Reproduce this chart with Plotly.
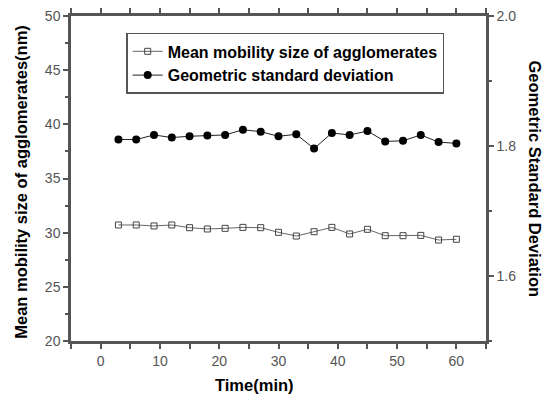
import plotly.graph_objects as go

time_min = [3, 6, 9, 12, 15, 18, 21, 24, 27, 30, 33, 36, 39, 42, 45, 48, 51, 54, 57, 60]
mean_size = [30.71, 30.71, 30.62, 30.71, 30.46, 30.34, 30.40, 30.49, 30.46, 30.03,
             29.69, 30.09, 30.49, 29.88, 30.31, 29.72, 29.72, 29.75, 29.32, 29.39]
gsd = [1.810, 1.810, 1.817, 1.813, 1.815, 1.816, 1.817, 1.825, 1.822, 1.815,
       1.818, 1.796, 1.820, 1.817, 1.823, 1.807, 1.808, 1.817, 1.806, 1.804]

x_title = "Time(min)"
left_title = "Mean mobility size of agglomerates(nm)"
right_title = "Geometric Standard Deviation"

axcol = "#555"
tickfont = dict(family="Liberation Sans, Arial", size=14, color="#555")
titlefont = dict(family="Liberation Sans, Arial", size=16.5, color="black")

fig = go.Figure()
fig.add_trace(go.Scatter(
    x=time_min, y=mean_size, mode="lines+markers",
    name="<b>Mean mobility size of agglomerates</b>",
    line=dict(color="#666", width=1),
    marker=dict(symbol="square-open", size=6, color="#444", line=dict(width=1)),
    yaxis="y"))
fig.add_trace(go.Scatter(
    x=time_min, y=gsd, mode="lines+markers",
    name="<b>Geometric standard deviation</b>",
    line=dict(color="#222", width=1),
    marker=dict(symbol="circle", size=8, color="black"),
    yaxis="y2"))

common = dict(showline=True, linecolor=axcol, linewidth=2.5, showgrid=False,
              zeroline=False, automargin=False, tickcolor=axcol, tickwidth=1.5)

fig.update_layout(
    width=552, height=398,
    margin=dict(l=71, r=66, t=16, b=57),
    paper_bgcolor="white", plot_bgcolor="white",
    showlegend=True,
    legend=dict(x=0.133, y=0.948, xanchor="left", yanchor="top",
                bordercolor="#555", borderwidth=1.5, bgcolor="white",
                font=dict(family="Liberation Sans, Arial", size=16, color="black"),
                tracegroupgap=0),
    xaxis=dict(range=[-5, 65], tick0=0, dtick=10, ticks="outside", ticklen=5,
               mirror="allticks", tickfont=tickfont,
               minor=dict(tick0=0, dtick=5, ticks="outside", ticklen=3, tickcolor=axcol),
               **common),
    yaxis=dict(range=[20, 50], tick0=20, dtick=5, ticks="outside", ticklen=5,
               tickfont=tickfont,
               minor=dict(tick0=20, dtick=2.5, ticks="outside", ticklen=3, tickcolor=axcol),
               **common),
    yaxis2=dict(range=[1.5, 2.0], overlaying="y", side="right", tick0=0, dtick=0.2,
                tickformat=".1f", ticks="outside", ticklen=5, tickfont=tickfont,
                minor=dict(tick0=0, dtick=0.1, ticks="outside", ticklen=3, tickcolor=axcol),
                **common),
    annotations=[
        dict(text="<b>" + right_title + "</b>", textangle=90,
             xref="paper", yref="paper", x=1.0, xshift=49, y=0.5,
             xanchor="center", yanchor="middle", showarrow=False, font=titlefont),
        dict(text="<b>" + left_title + "</b>", textangle=-90,
             xref="paper", yref="paper", x=0.0, xshift=-50, y=0.49,
             xanchor="center", yanchor="middle", showarrow=False, font=titlefont),
        dict(text="<b>" + x_title + "</b>",
             xref="paper", yref="paper", x=0.441, y=0.0, yshift=-44,
             xanchor="center", yanchor="middle", showarrow=False, font=titlefont),
    ],
)

fig.write_html("out.html", config={"displayModeBar": False},
               post_script="document.body.style.margin='0';document.body.style.overflow='hidden';")
